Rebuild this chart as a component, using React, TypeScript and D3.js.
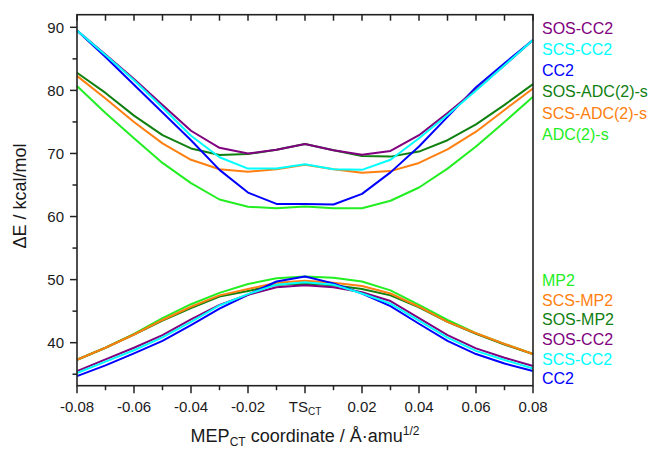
import React from "react";
import * as d3 from "d3";

const W = 657;
const H = 449;

const xValues = [-0.08, -0.07, -0.06, -0.05, -0.04, -0.03, -0.02, -0.01, 0, 0.01, 0.02, 0.03, 0.04, 0.05, 0.06, 0.07, 0.08];

// Upper (excited CT state) curves
const sosCC2Up = [89.5, 85.7, 81.8, 77.7, 73.6, 70.9, 70.0, 70.6, 71.5, 70.5, 69.8, 70.4, 72.9, 76.4, 80.1, 84.0, 88.0];
const scsCC2Up = [89.5, 85.6, 81.6, 77.3, 72.8, 69.4, 67.6, 67.6, 68.3, 67.5, 67.4, 69.0, 72.4, 76.1, 80.0, 84.0, 88.0];
const cc2Up = [89.5, 85.3, 80.9, 76.5, 72.1, 67.4, 63.8, 62.0, 62.0, 61.9, 63.6, 67.0, 71.1, 75.8, 80.5, 84.3, 88.0];
const sosADCUp = [82.8, 79.6, 76.0, 72.9, 70.8, 69.75, 69.9, 70.6, 71.5, 70.5, 69.6, 69.5, 70.3, 72.1, 74.6, 77.7, 81.0];
const scsADCUp = [82.3, 78.7, 75.0, 71.6, 69.0, 67.5, 67.1, 67.5, 68.2, 67.5, 66.95, 67.2, 68.5, 70.65, 73.45, 76.9, 80.3];
const adcUp = [80.7, 76.4, 72.4, 68.5, 65.3, 62.7, 61.55, 61.3, 61.6, 61.3, 61.3, 62.5, 64.6, 67.6, 71.1, 75.0, 79.0];

// Lower (ground-state based) curves
const mp2Low = [37.3, 39.2, 41.4, 43.9, 46.1, 47.9, 49.3, 50.2, 50.5, 50.3, 49.7, 48.3, 46.0, 43.6, 41.5, 39.8, 38.2];
const scsMP2Low = [37.3, 39.2, 41.3, 43.6, 45.7, 47.5, 48.5, 49.5, 49.8, 49.5, 49.0, 47.8, 45.7, 43.3, 41.5, 39.8, 38.2];
const sosMP2Low = [37.3, 39.2, 41.3, 43.5, 45.5, 47.3, 48.2, 49.2, 49.35, 49.1, 48.5, 47.5, 45.6, 43.3, 41.4, 39.7, 38.2];
const sosCC2Low = [35.5, 37.35, 39.2, 41.2, 43.7, 46.0, 47.6, 48.8, 49.1, 48.8, 48.0, 46.6, 43.9, 41.2, 39.1, 37.6, 36.3];
const scsCC2Low = [35.2, 37.0, 38.8, 40.85, 43.3, 45.9, 47.7, 49.2, 49.6, 49.2, 47.8, 46.2, 43.5, 40.8, 38.7, 37.25, 35.9];
const cc2Low = [34.7, 36.4, 38.3, 40.3, 42.8, 45.4, 47.6, 49.7, 50.5, 49.4, 47.8, 45.8, 43.0, 40.3, 38.2, 36.7, 35.5];

const xMajorTicks = [-0.08, -0.06, -0.04, -0.02, 0, 0.02, 0.04, 0.06, 0.08];
const xMinorTicks = [-0.07, -0.05, -0.03, -0.01, 0.01, 0.03, 0.05, 0.07];
const xTickLabels = ["-0.08", "-0.06", "-0.04", "-0.02", "TS", "0.02", "0.04", "0.06", "0.08"];
const yMajorTicks = [40, 50, 60, 70, 80, 90];
const yMinorTicks = [35, 45, 55, 65, 75, 85];

const upperLegend = ["SOS-CC2", "SCS-CC2", "CC2", "SOS-ADC(2)-s", "SCS-ADC(2)-s", "ADC(2)-s"];
const lowerLegend = ["MP2", "SCS-MP2", "SOS-MP2", "SOS-CC2", "SCS-CC2", "CC2"];

const C = {
  purple: "#800080",
  cyan: "#00FFFF",
  blue: "#0000FF",
  dgreen: "#108010",
  orange: "#FF7F10",
  lgreen: "#22EE22",
};

const upperColors = [C.purple, C.cyan, C.blue, C.dgreen, C.orange, C.lgreen];
const lowerColors = [C.lgreen, C.orange, C.dgreen, C.purple, C.cyan, C.blue];

// draw order (first drawn at bottom)
const seriesDraw = [
  { v: adcUp, c: C.lgreen },
  { v: sosADCUp, c: C.dgreen },
  { v: scsADCUp, c: C.orange },
  { v: cc2Up, c: C.blue },
  { v: sosCC2Up, c: C.purple },
  { v: scsCC2Up, c: C.cyan },
  { v: mp2Low, c: C.lgreen },
  { v: sosMP2Low, c: C.dgreen },
  { v: scsMP2Low, c: C.orange },
  { v: cc2Low, c: C.blue },
  { v: sosCC2Low, c: C.purple },
  { v: scsCC2Low, c: C.cyan },
];

const FONT = "'Liberation Sans', Arial, sans-serif";

export default function App() {
  const left = 77, right = 533, top = 14.7, bottom = 385.7;
  const x = d3.scaleLinear().domain([-0.08, 0.08]).range([left, right]);
  const y = d3.scaleLinear().domain([33.18, 92.0]).range([bottom, top]);
  const line = d3
    .line<number>()
    .x((_, i) => x(xValues[i]))
    .y((d) => y(d));

  const axisColor = "#222";
  const textColor = "#1a1a1a";

  return (
    <svg
      width={W}
      height={H}
      style={{ position: "absolute", left: 0, top: 0, background: "#fff" }}
      fontFamily={FONT}
    >
      <rect x={0} y={0} width={W} height={H} fill="#fff" />
      {/* curves */}
      <g fill="none" strokeWidth={2} strokeLinejoin="round">
        {seriesDraw.map((s, i) => (
          <path key={i} d={line(s.v) || ""} stroke={s.c} />
        ))}
      </g>
      {/* frame */}
      <rect x={left} y={top} width={right - left} height={bottom - top} fill="none" stroke={axisColor} strokeWidth={1.6} />
      {/* x ticks bottom */}
      {xMajorTicks.map((t) => (
        <line key={"xb" + t} x1={x(t)} x2={x(t)} y1={bottom} y2={bottom + 7.5} stroke={axisColor} strokeWidth={1.5} />
      ))}
      {xMinorTicks.map((t) => (
        <line key={"xbm" + t} x1={x(t)} x2={x(t)} y1={bottom} y2={bottom + 4.5} stroke={axisColor} strokeWidth={1.5} />
      ))}
      {/* x ticks top (inward) */}
      {[...xMajorTicks, ...xMinorTicks].map((t) => (
        <line key={"xt" + t} x1={x(t)} x2={x(t)} y1={top} y2={top + 6} stroke={axisColor} strokeWidth={1.5} />
      ))}
      {/* y ticks */}
      {yMajorTicks.map((t) => (
        <line key={"yl" + t} x1={left - 7} x2={left} y1={y(t)} y2={y(t)} stroke={axisColor} strokeWidth={1.5} />
      ))}
      {yMinorTicks.map((t) => (
        <line key={"ylm" + t} x1={left - 4.5} x2={left} y1={y(t)} y2={y(t)} stroke={axisColor} strokeWidth={1.5} />
      ))}
      {/* x tick labels */}
      {xMajorTicks.map((t, i) =>
        xTickLabels[i] === "TS" ? (
          <text key={"xl" + t} x={x(t)} y={411.5} fontSize={15} fill={textColor} textAnchor="middle">
            <tspan>TS</tspan>
            <tspan fontSize={10} dy={3.5}>CT</tspan>
          </text>
        ) : (
          <text key={"xl" + t} x={x(t)} y={411.5} fontSize={15} fill={textColor} textAnchor="middle">
            {xTickLabels[i]}
          </text>
        )
      )}
      {/* y tick labels */}
      {yMajorTicks.map((t) => (
        <text key={"ylab" + t} x={64} y={y(t) + 5.4} fontSize={15} fill={textColor} textAnchor="end">
          {t}
        </text>
      ))}
      {/* axis titles */}
      <text x={305} y={441.5} fontSize={18} fill={textColor} textAnchor="middle">
        <tspan>MEP</tspan>
        <tspan fontSize={12} dy={4}>CT</tspan>
        <tspan dy={-4}> coordinate / Å·amu</tspan>
        <tspan fontSize={12} dy={-7}>1/2</tspan>
      </text>
      <text
        transform={`translate(25.5, 196) rotate(-90)`}
        fontSize={18}
        fill={textColor}
        textAnchor="middle"
      >
        ΔE / kcal/mol
      </text>
      {/* legends */}
      {upperLegend.map((name, i) => (
        <text key={"ul" + i} x={542} y={28 + i * 21.2 + 5.8} fontSize={16} fill={upperColors[i]}>
          {name}
        </text>
      ))}
      {lowerLegend.map((name, i) => (
        <text key={"ll" + i} x={542} y={280 + i * 19.7 + 5.8} fontSize={16} fill={lowerColors[i]}>
          {name}
        </text>
      ))}
    </svg>
  );
}
